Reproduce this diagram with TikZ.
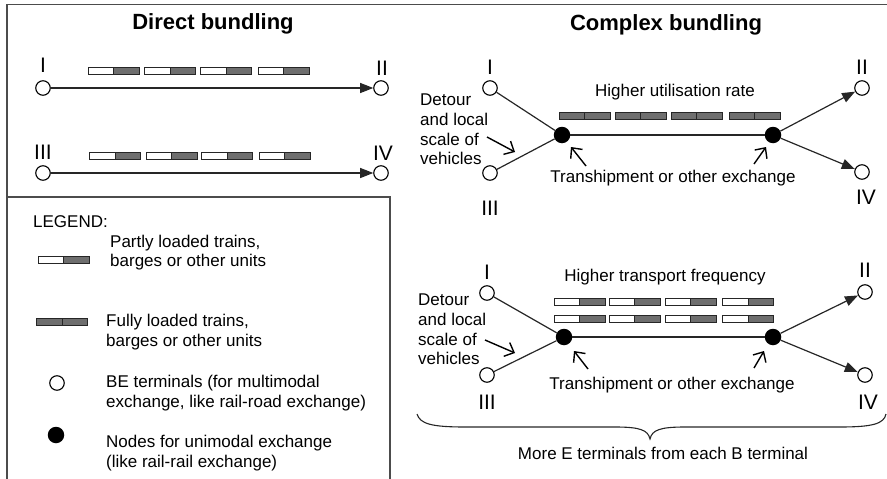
\documentclass[tikz,border=0pt]{standalone}
\usepackage{fontspec}
\setmainfont{Liberation Sans}
\usetikzlibrary{arrows.meta}
\definecolor{barfill}{HTML}{6E6E6E}
\tikzset{
  unitbar/.style={line width=0.9pt, draw=black!85},
  pbar/.pic={
    \draw[unitbar, fill=white] (-25.5,-3.5) rectangle (0,3.5);
    \draw[unitbar, fill=barfill] (0,-3.5) rectangle (25.5,3.5);
  },
  fbar/.pic={
    \draw[unitbar, fill=barfill] (-25.5,-3.5) rectangle (0,3.5);
    \draw[unitbar, fill=barfill] (0,-3.5) rectangle (25.5,3.5);
  },
}
\begin{document}
\begin{tikzpicture}[x=1pt,y=-1pt,
  txt/.style={font=\fontsize{17}{19.7}\selectfont, inner sep=0pt, align=left},
  ctxt/.style={font=\fontsize{17}{19.7}\selectfont, inner sep=0pt},
  ttl/.style={font=\fontsize{22}{26}\selectfont\bfseries, inner sep=0pt},
  num/.style={font=\fontsize{21}{24}\selectfont, inner sep=0pt},
  term/.style={circle, draw=black, fill=white, line width=1.1pt, minimum size=14.5pt, inner sep=0pt},
  hub/.style={circle, fill=black, minimum size=16.5pt, inner sep=0pt},
  link/.style={draw=black!85, line width=1.2pt},
  flow/.style={link, -{Triangle[length=13pt,width=10pt]}},
  note/.style={draw=black, line width=1.4pt, -{Straight Barb[length=8pt,width=15pt]}},
  frame/.style={draw=black!70, line width=1.4pt},
]
\useasboundingbox (0,0) rectangle (887,479);

% outer frame and legend box
\draw[frame] (7,479) -- (7,4.5) -- (887,4.5);
\draw[frame] (7,197) -- (390,197) -- (390,479);

% ---------------- Direct bundling ----------------
\node[ttl] (dtitle) at (213,24) {Direct bundling};

\node[term] (dI)   at (43,88)  {};
\node[term] (dII)  at (381,88) {};
\node[term] (dIII) at (43,173) {};
\node[term] (dIV)  at (381,173) {};
\node[num] (ldI)   at (43,65)   {I};
\node[num] (ldII)  at (382,68)  {II};
\node[num] (ldIII) at (43,152)  {III};
\node[num] (ldIV)  at (383,153) {IV};

\draw[flow] (dI) -- (dII);
\draw[flow] (dIII) -- (dIV);

\foreach \x in {113.5,170,226,283.5} \pic at (\x,70.5) {pbar};
\foreach \x in {115,171.5,227,284.5} \pic at (\x,155.5) {pbar};

% ---------------- Legend ----------------
\node[ctxt, anchor=west] (leg) at (33,222) {LEGEND:};
\pic at (63.5,260) {pbar};
\node[txt, anchor=west] (lpart) at (110,252.5) {Partly loaded trains,\\barges or other units};
\pic at (62,322) {fbar};
\node[txt, anchor=west] (lfull) at (106,332) {Fully loaded trains,\\barges or other units};
\node[term] (lterm) at (57,383) {};
\node[txt, anchor=west] (lbe) at (106,393) {BE terminals (for multimodal\\exchange, like rail-road exchange)};
\node[hub] (lhub) at (56,435) {};
\node[txt, anchor=west] (lnode) at (106,453) {Nodes for unimodal exchange\\(like rail-rail exchange)};

% ---------------- Complex bundling ----------------
\node[ttl] (ctitle) at (666,25) {Complex bundling};

% upper network
\node[term] (cI)   at (490,88)  {};
\node[term] (cIII) at (490,173) {};
\node[hub]  (cL)   at (562,135) {};
\node[hub]  (cR)   at (773,135) {};
\node[term] (cII)  at (862,88)  {};
\node[term] (cIV)  at (862,172) {};
\node[num] (lcI)   at (490,67)  {I};
\node[num] (lcII)  at (862,67)  {II};
\node[num] (lcIII) at (490,208) {III};
\node[num] (lcIV)  at (866,197) {IV};

\draw[link] (cI) -- (cL);
\draw[link] (cIII) -- (cL);
\draw[link] (cL) -- (cR);
\draw[flow] (cR) -- (cII);
\draw[flow] (cR) -- (cIV);

\node[ctxt] (util) at (675,92) {Higher utilisation rate};
\foreach \x in {584.5,640.5,696.5,754.5} \pic at (\x,116) {fbar};

\node[txt, anchor=west] (cdet) at (420,129.5) {Detour\\and local\\scale of\\vehicles};
\node[ctxt] (ctrans) at (673,178) {Transhipment or other exchange};

\coordinate (ca1) at (487,137);  \coordinate (cb1) at (515,152);
\coordinate (ca2) at (586,166);  \coordinate (cb2) at (571,147);
\coordinate (ca3) at (754,164);  \coordinate (cb3) at (766,147);
\draw[note] (ca1) -- (cb1);
\draw[note] (ca2) -- (cb2);
\draw[note] (ca3) -- (cb3);

% lower network
\node[term] (bI)   at (487,293) {};
\node[term] (bIII) at (487,375) {};
\node[hub]  (bL)   at (564,337) {};
\node[hub]  (bR)   at (773,337) {};
\node[term] (bII)  at (865,292) {};
\node[term] (bIV)  at (865,375) {};
\node[num] (lbI)   at (487,272) {I};
\node[num] (lbII)  at (865,270) {II};
\node[num] (lbIII) at (487,402) {III};
\node[num] (lbIV)  at (868,402) {IV};

\draw[link] (bI) -- (bL);
\draw[link] (bIII) -- (bL);
\draw[link] (bL) -- (bR);
\draw[flow] (bR) -- (bII);
\draw[flow] (bR) -- (bIV);

\node[ctxt] (freq) at (665,277) {Higher transport frequency};
\foreach \x in {579.5,634.5,690.5,748} {
  \pic at (\x,302) {pbar};
  \pic at (\x,319) {pbar};
}

\node[txt, anchor=west] (bdet) at (418,329.5) {Detour\\and local\\scale of\\vehicles};
\node[ctxt] (btrans) at (672,385) {Transhipment or other exchange};

\coordinate (ba1) at (485,340);  \coordinate (bb1) at (515,353);
\coordinate (ba2) at (588,369);  \coordinate (bb2) at (574,351);
\coordinate (ba3) at (754,368);  \coordinate (bb3) at (764,351);
\draw[note] (ba1) -- (bb1);
\draw[note] (ba2) -- (bb2);
\draw[note] (ba3) -- (bb3);

% brace under both networks
\draw[line width=1.1pt, black!85]
  (417,414) .. controls (420,424) and (432,427) .. (465,427)
  -- (615,427) .. controls (640,427) and (648,430) .. (650,439)
  .. controls (652,430) and (660,427) .. (685,427)
  -- (840,427) .. controls (872,427) and (884,424) .. (886,414);
\node[ctxt] (more) at (663,453) {More E terminals from each B terminal};

\end{tikzpicture}
\end{document}
